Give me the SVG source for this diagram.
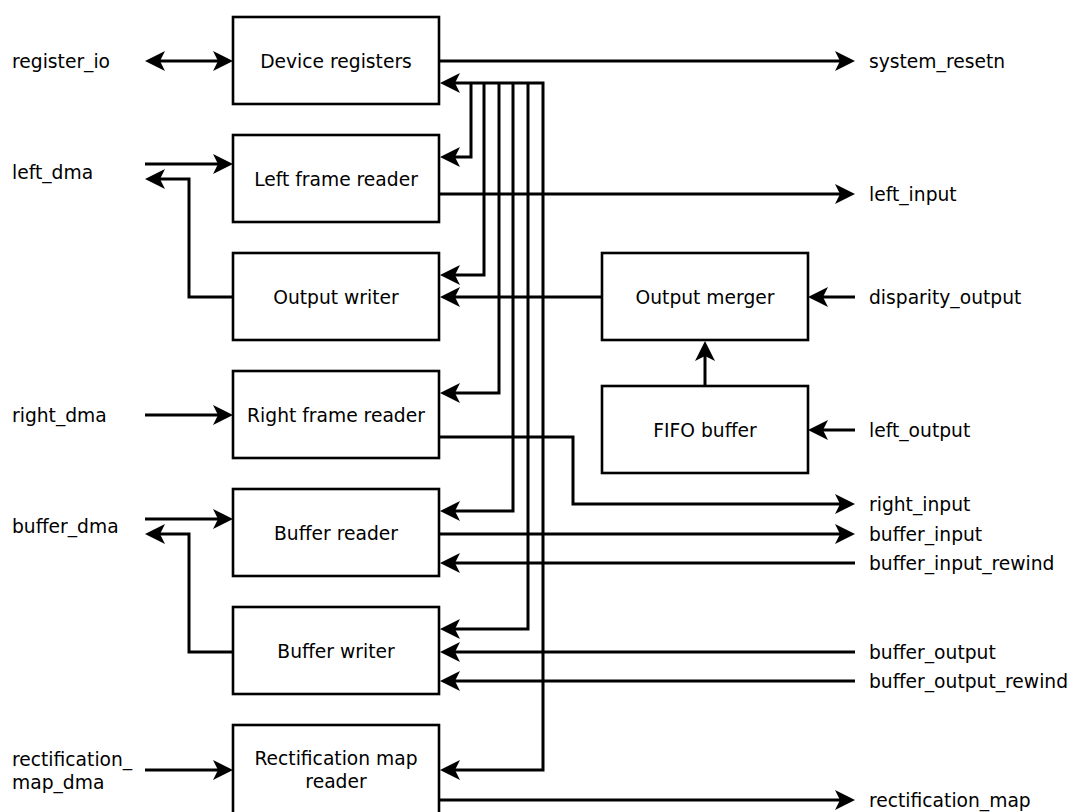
<svg xmlns="http://www.w3.org/2000/svg" width="1070" height="812" viewBox="0 0 1070 812">
<style>
.box{fill:#fff;stroke:#000;stroke-width:2.6}
.t{font-family:"DejaVu Sans",sans-serif;font-size:18.7px;fill:#000}
.c{text-anchor:middle}
.w{fill:none;stroke:#000;stroke-width:3;stroke-linejoin:miter}
.a{marker-end:url(#ah)}
.b{marker-start:url(#ah);marker-end:url(#ah)}
</style>
<defs>
<marker id="ah" viewBox="0 0 20 20" refX="12" refY="10" markerWidth="20" markerHeight="20" markerUnits="userSpaceOnUse" orient="auto-start-reverse">
<path d="M20,10 L0,0 L5,10 L0,20 Z" fill="#000"/>
</marker>
</defs>
<rect width="1070" height="812" fill="#fff"/>
<g id="connectors">
<path class="w b" d="M153,61 H225"/>
<path class="w a" d="M440,61 H847"/>
<path class="w b" d="M448,83 H543 V770 H448"/>
<path class="w a" d="M471,83 V157 H448"/>
<path class="w a" d="M484,83 V275 H448"/>
<path class="w a" d="M499,83 V393 H448"/>
<path class="w a" d="M513,83 V511 H448"/>
<path class="w a" d="M528,83 V629 H448"/>
<path class="w a" d="M145,164 H225"/>
<path class="w a" d="M233,297 H189 V179 H153"/>
<path class="w a" d="M440,194 H847"/>
<path class="w a" d="M602,297 H448"/>
<path class="w a" d="M855,297 H816"/>
<path class="w a" d="M705,386 V349"/>
<path class="w a" d="M855,430 H816"/>
<path class="w a" d="M145,415 H225"/>
<path class="w a" d="M440,437 H573 V504 H847"/>
<path class="w a" d="M145,519 H225"/>
<path class="w a" d="M233,652 H189 V534 H153"/>
<path class="w a" d="M440,534 H847"/>
<path class="w a" d="M855,563 H448"/>
<path class="w a" d="M855,652 H448"/>
<path class="w a" d="M855,681 H448"/>
<path class="w a" d="M145,770 H225"/>
<path class="w a" d="M440,800 H847"/>
</g>
<g id="device_registers"><rect class="box" x="233" y="17" width="206" height="87"/><text class="t c" x="336" y="67.5">Device registers</text></g>
<g id="left_frame_reader"><rect class="box" x="233" y="135" width="206" height="87"/><text class="t c" x="336" y="185.5">Left frame reader</text></g>
<g id="output_writer"><rect class="box" x="233" y="253" width="206" height="87"/><text class="t c" x="336" y="303.5">Output writer</text></g>
<g id="right_frame_reader"><rect class="box" x="233" y="371" width="206" height="87"/><text class="t c" x="336" y="421.5">Right frame reader</text></g>
<g id="buffer_reader"><rect class="box" x="233" y="489" width="206" height="87"/><text class="t c" x="336" y="539.5">Buffer reader</text></g>
<g id="buffer_writer"><rect class="box" x="233" y="607" width="206" height="87"/><text class="t c" x="336" y="657.5">Buffer writer</text></g>
<g id="rectification_map_reader"><rect class="box" x="233" y="725" width="206" height="100"/><text class="t c" x="336" y="764.5">Rectification map</text><text class="t c" x="336" y="787.5">reader</text></g>
<g id="output_merger"><rect class="box" x="602" y="253" width="206" height="87"/><text class="t c" x="705" y="303.5">Output merger</text></g>
<g id="fifo_buffer"><rect class="box" x="602" y="386" width="206" height="87"/><text class="t c" x="705" y="436.5">FIFO buffer</text></g>
<g id="labels">
<text class="t" x="12" y="67.5">register_io</text>
<text class="t" x="12" y="178.5">left_dma</text>
<text class="t" x="12" y="421.5">right_dma</text>
<text class="t" x="12" y="532.5">buffer_dma</text>
<text class="t" x="12" y="765.5">rectification_</text>
<text class="t" x="12" y="788.5">map_dma</text>
<text class="t" x="869" y="67.5">system_resetn</text>
<text class="t" x="869" y="200.5">left_input</text>
<text class="t" x="869" y="303.5">disparity_output</text>
<text class="t" x="869" y="436.5">left_output</text>
<text class="t" x="869" y="510.5">right_input</text>
<text class="t" x="869" y="540.5">buffer_input</text>
<text class="t" x="869" y="569.5">buffer_input_rewind</text>
<text class="t" x="869" y="658.5">buffer_output</text>
<text class="t" x="869" y="687.5">buffer_output_rewind</text>
<text class="t" x="869" y="806.5">rectification_map</text>
</g>
</svg>
